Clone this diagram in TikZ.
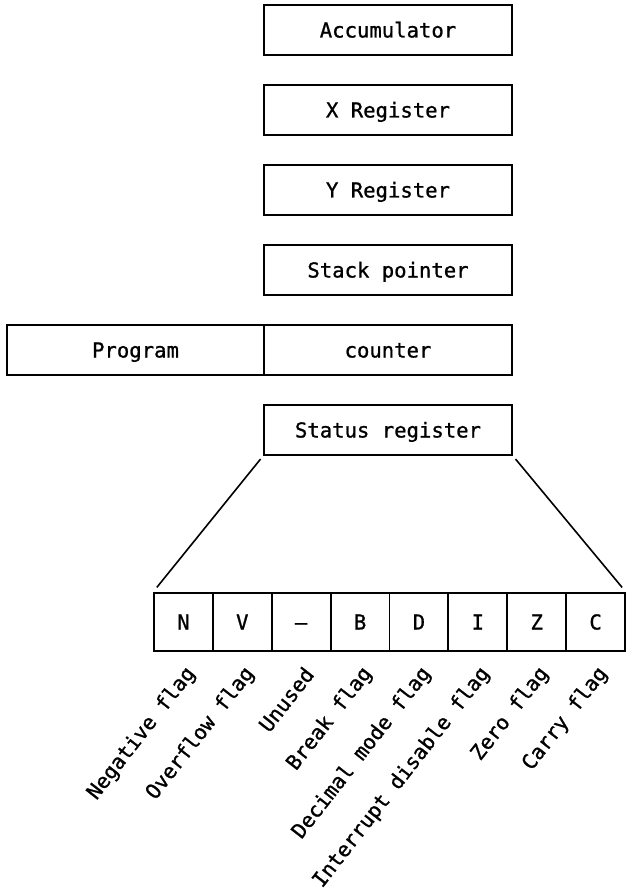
\documentclass[tikz,border=0pt]{standalone}
\usepackage{fontspec}
\newfontfamily\plotfont[FakeBold=1]{DejaVu Sans Mono}
\begin{document}
\begin{tikzpicture}[x=1pt,y=-1pt,
  plot/.style={font=\plotfont\fontsize{20.6}{24}\selectfont},
  reg/.style={plot, draw, line width=1.9pt, minimum width=248pt, minimum height=50pt,
    inner sep=0pt, text height=15pt, text depth=0pt},
  bit/.style={plot, draw, line width=1.9pt, minimum width=58.875pt, minimum height=58pt,
    inner sep=0pt, text height=15pt, text depth=0pt},
  flaglabel/.style={plot, rotate=52, anchor=east, inner sep=0pt},
  fan/.style={line width=1.6pt, shorten <=4pt, shorten >=6pt}]
\useasboundingbox (0,0) rectangle (626,893);

% register stack
\node[reg] (acc) at (388,30) {Accumulator};
\node[reg] (xr)  at (388,110) {X Register};
\node[reg] (yr)  at (388,190) {Y Register};
\node[reg] (sp)  at (388,270) {Stack pointer};
\node[reg, minimum width=257pt] (pcl) at (135.5,350) {Program};
\node[reg] (pch) at (388,350) {counter};
\node[reg] (sr)  at (388,430) {Status register};

% status register bits
\foreach \b [count=\i from 0] in {N,V,–,B,D,I,Z,C}
  \node[bit] (f\i) at ({183.44+58.875*\i},622) {\b};

% expansion lines
\draw[fan] (sr.south west) -- (f0.north west);
\draw[fan] (sr.south east) -- (f7.north east);

% bit names
\foreach \t [count=\i from 0] in {Negative flag,Overflow flag,Unused,Break flag,
    Decimal mode flag,Interrupt disable flag,Zero flag,Carry flag}
  \node[flaglabel] (l\i) at ([shift={(8,18)}]f\i.south) {\t};
\end{tikzpicture}
\end{document}
